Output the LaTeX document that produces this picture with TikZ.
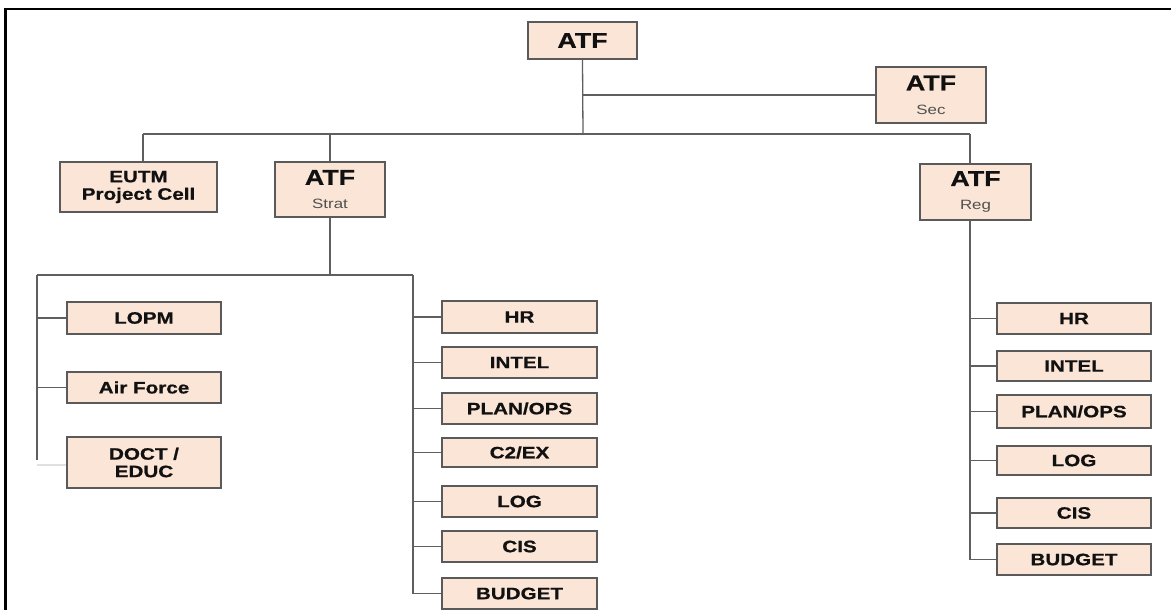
\documentclass[tikz,border=0pt]{standalone}
\usepackage{fontspec}
\setmainfont[FakeStretch=1.25, BoldFeatures={FakeBold=0.8}]{Liberation Sans}
\definecolor{boxfill}{HTML}{FBE5D6}
\definecolor{boxline}{HTML}{5A5A5A}
\definecolor{wire}{HTML}{5F5F5F}
\definecolor{ink}{HTML}{111111}
\definecolor{subink}{HTML}{505050}
\newcommand{\bigatf}{\fontsize{21.5}{21}\selectfont\bfseries}
\newcommand{\subtag}{\fontsize{13.5}{13}\selectfont\color{subink}}
\newcommand{\lbl}{\fontsize{16.5}{17.5}\selectfont\bfseries}
\tikzset{
  x=1pt, y=-1pt,
  unit/.style={draw=boxline, line width=1.3pt, fill=boxfill, text=ink,
    inner sep=0pt, align=center, font=\lbl},
  head/.style={unit, font=\bigatf},
  cell/.style={unit, minimum width=154pt, minimum height=31pt},
  wirestyle/.style={draw=wire, line width=1.3pt},
}
\begin{document}
\begin{tikzpicture}
\useasboundingbox (0,0) rectangle (1171,610);
% outer frame
\draw[line width=2.4pt, black] (5.5,640) -- (5.5,9) -- (1200,9);

% top level
\node[head, minimum width=109pt, minimum height=37pt] (top) at (582.5,40.5) {ATF};
\node[head, minimum width=110pt, minimum height=56pt] (sec) at (931,95) {ATF\\[3pt]{\subtag\mdseries Sec}};

% second level
\node[unit, minimum width=157pt, minimum height=50pt] (eutm) at (138.5,187) {EUTM\\Project Cell};
\node[head, minimum width=110pt, minimum height=55pt] (strat) at (330,189.5) {ATF\\[3pt]{\subtag\mdseries Strat}};
\node[head, minimum width=111pt, minimum height=56pt] (reg) at (975.5,192) {ATF\\[3pt]{\subtag\mdseries Reg}};

% bus coordinates
\coordinate (bus) at (583,134);
\coordinate (eutmdrop) at (143,134);
\coordinate (regdrop) at (970,134);
\coordinate (stratbus) at (330,275);
\coordinate (lspine) at (37,275);
\coordinate (mspine) at (413,275);
\coordinate (rspine) at (970,220);

% top connectors
\draw[wirestyle] (top.south) -- (bus);
\draw[wirestyle] (sec.west) -- (sec.west -| top.south);
\draw[wirestyle] (eutmdrop) -- (regdrop);
\draw[wirestyle] (eutmdrop) -- (eutmdrop |- eutm.north);
\draw[wirestyle] (strat.north) -- (strat.north |- bus);
\draw[wirestyle] (regdrop) -- (regdrop |- reg.north);

% strat branch: left column
\node[cell, minimum height=32pt] (lopm) at (144,318) {LOPM};
\node[cell] (air) at (144,387.5) {Air Force};
\node[cell, minimum height=51pt] (doct) at (144,462.5) {DOCT /\\EDUC};

% strat branch: right column
\node[cell, minimum width=155pt, minimum height=32pt] (shr) at (519.5,317) {HR};
\node[cell, minimum width=155pt] (sintel) at (519.5,362.5) {INTEL};
\node[cell, minimum width=155pt] (splan) at (519.5,408.5) {PLAN/OPS};
\node[cell, minimum width=155pt, minimum height=29pt] (sc2) at (519.5,452.5) {C2/EX};
\node[cell, minimum width=155pt] (slog) at (519.5,501.5) {LOG};
\node[cell, minimum width=155pt] (scis) at (519.5,546.5) {CIS};
\node[cell, minimum width=155pt] (sbud) at (519.5,593.5) {BUDGET};

\draw[wirestyle] (strat.south) -- (stratbus);
\draw[wirestyle] (lspine) -- (mspine);
\draw[wirestyle] (lspine) -- (37,460);
\draw[wirestyle] (mspine) -- (413,594);
\draw[wirestyle] (lopm.west) -- (lopm.west -| lspine);
\draw[wirestyle] (air.west) -- (air.west -| lspine);
\draw[draw=black!12, line width=1.4pt] ([yshift=-2.5pt]doct.west) -- ([yshift=-2.5pt]doct.west -| lspine);
\foreach \n in {shr,sintel,splan,sc2,slog,scis,sbud}
  \draw[wirestyle] (\n.west) -- (\n.west -| mspine);

% reg branch
\node[cell] (rhr) at (1074,318.5) {HR};
\node[cell, minimum height=30pt] (rintel) at (1074,366) {INTEL};
\node[cell, minimum height=33pt] (rplan) at (1074,411.5) {PLAN/OPS};
\node[cell, minimum height=29pt] (rlog) at (1074,460.5) {LOG};
\node[cell, minimum height=30pt] (rcis) at (1074,513) {CIS};
\node[cell] (rbud) at (1074,559.5) {BUDGET};

\draw[wirestyle] (reg.south -| rspine) -- (970,560);
\foreach \n in {rhr,rintel,rplan,rlog,rcis,rbud}
  \draw[wirestyle] (\n.west) -- (\n.west -| rspine);
\end{tikzpicture}
\end{document}
